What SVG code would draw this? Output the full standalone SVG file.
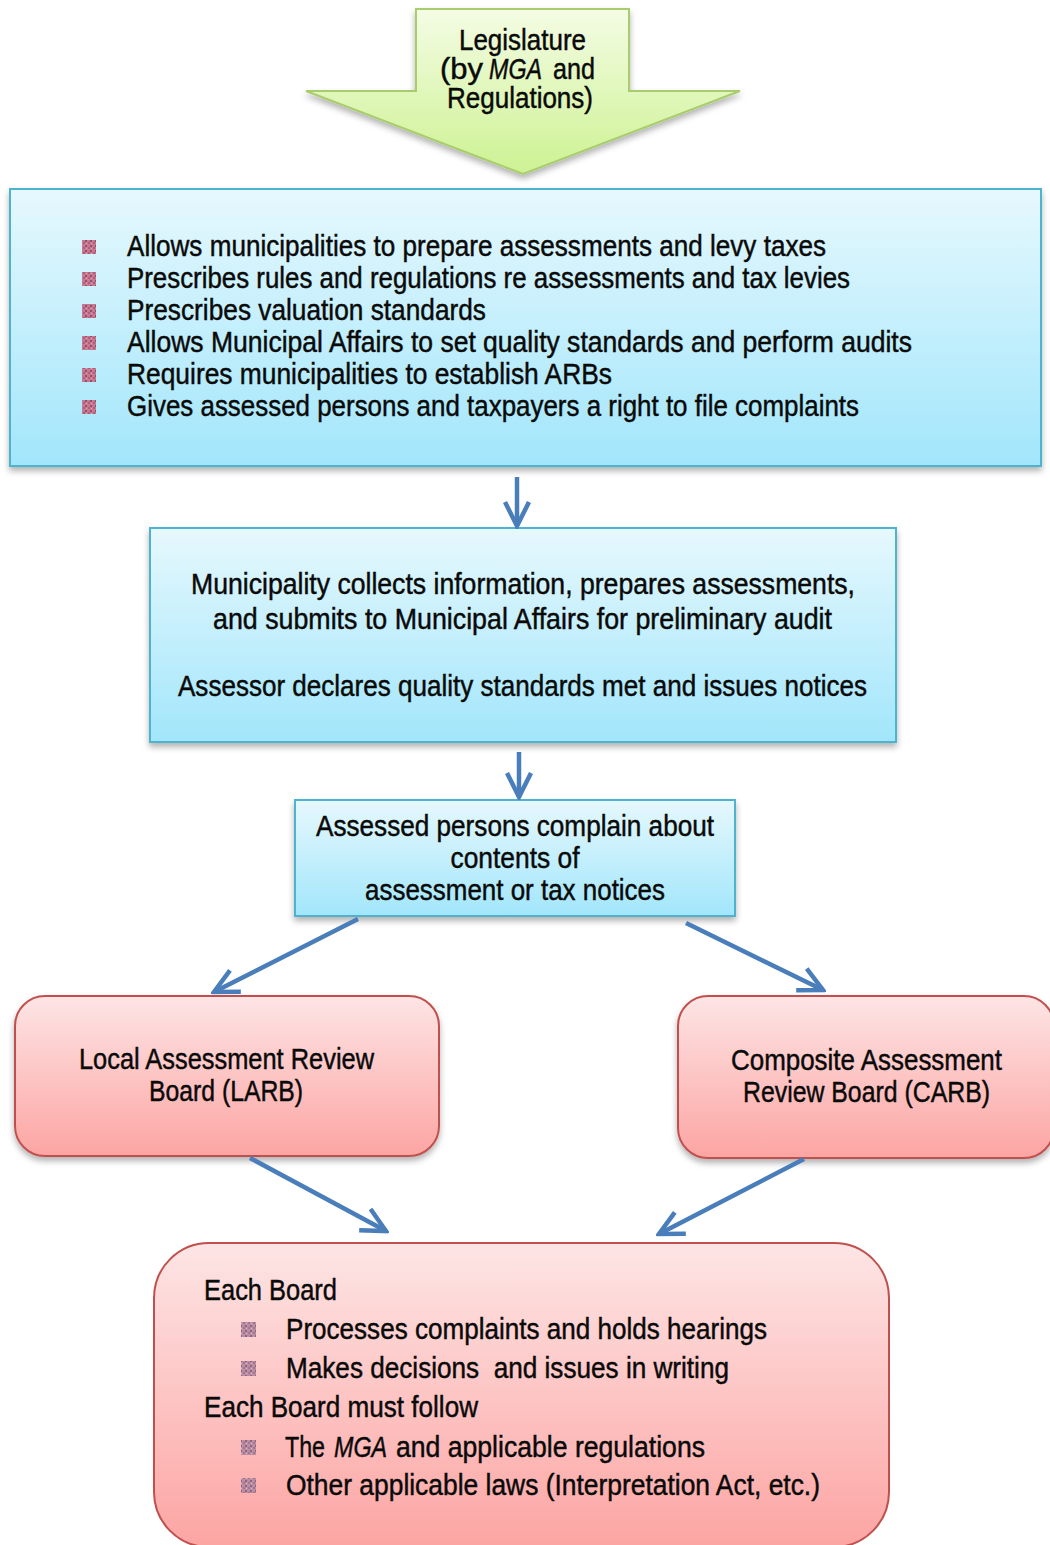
<svg xmlns="http://www.w3.org/2000/svg" width="1050" height="1545" viewBox="0 0 1050 1545">
<style>
  .t{font-family:"Liberation Sans Narrow","Liberation Sans",Arial,sans-serif;font-size:29px;fill:#0a0a0a;stroke:#0a0a0a;stroke-width:0.45px}
  .i{font-style:italic}
  .m{text-anchor:middle}
  .blue{fill:url(#gBlue);stroke:#4eb3cf;stroke-width:2}
  .pink{fill:url(#gPink);stroke:#c0504d;stroke-width:2}
  .bul{fill:url(#pBul)}
  .bul2{fill:url(#pBul2)}
  .conn{stroke:#4a7ebb;stroke-width:4.5;fill:none;marker-end:url(#arr)}
</style>
<defs>
  <linearGradient id="gBlue" x1="0" y1="0" x2="0" y2="1">
    <stop offset="0" stop-color="#e6f8fd"/>
    <stop offset="1" stop-color="#a2e6fb"/>
  </linearGradient>
  <linearGradient id="gPink" x1="0" y1="0" x2="0" y2="1">
    <stop offset="0" stop-color="#fde5e5"/>
    <stop offset="1" stop-color="#fca5a3"/>
  </linearGradient>
  <linearGradient id="gGreen" x1="0" y1="0" x2="0" y2="1">
    <stop offset="0" stop-color="#f4fce4"/>
    <stop offset="1" stop-color="#cdf293"/>
  </linearGradient>
  <pattern id="pBul" width="5" height="5" patternUnits="userSpaceOnUse">
    <rect width="5" height="5" fill="#c47a90"/>
    <rect x="0" y="0" width="2" height="2" fill="#9c4c68"/>
    <rect x="3" y="2" width="2" height="2" fill="#b15e7c"/>
    <rect x="1" y="3" width="1" height="1" fill="#d9a3b3"/>
  </pattern>
  <pattern id="pBul2" width="5" height="5" patternUnits="userSpaceOnUse">
    <rect width="5" height="5" fill="#bb8ea2"/>
    <rect x="0" y="0" width="2" height="2" fill="#8f6586"/>
    <rect x="3" y="2" width="2" height="2" fill="#a47690"/>
    <rect x="1" y="3" width="1" height="1" fill="#dbb6c4"/>
  </pattern>
  <filter id="sh" x="-10%" y="-10%" width="120%" height="130%">
    <feDropShadow dx="0" dy="4" stdDeviation="3" flood-color="#000" flood-opacity="0.3"/>
  </filter>
  <marker id="arr" markerUnits="userSpaceOnUse" viewBox="0 0 28 28" markerWidth="28" markerHeight="28" refX="25" refY="14" orient="auto">
    <path d="M1,2 L25,14 L1,26" fill="none" stroke="#4a7ebb" stroke-width="4.5"/>
  </marker>
</defs>

<g id="legislature">
  <polygon points="416,9 629,9 629,91 740,91 523,174 306,91 416,91" fill="url(#gGreen)" stroke="#a9cc6c" stroke-width="2" filter="url(#sh)"/>
  <text class="t" x="459" y="50" textLength="127" lengthAdjust="spacingAndGlyphs">Legislature</text>
  <text class="t" x="440" y="79" textLength="43" lengthAdjust="spacingAndGlyphs">(by</text>
  <text class="t i" x="489" y="79" textLength="53" lengthAdjust="spacingAndGlyphs">MGA</text>
  <text class="t" x="553" y="79" textLength="42" lengthAdjust="spacingAndGlyphs">and</text>
  <text class="t" x="447" y="108" textLength="146" lengthAdjust="spacingAndGlyphs">Regulations)</text>
</g>

<g id="legislation-box">
  <rect class="blue" x="10" y="189" width="1031" height="277" filter="url(#sh)"/>
  <rect class="bul" x="82" y="240" width="14" height="14"/>
  <rect class="bul" x="82" y="272" width="14" height="14"/>
  <rect class="bul" x="82" y="304" width="14" height="14"/>
  <rect class="bul" x="82" y="336" width="14" height="14"/>
  <rect class="bul" x="82" y="368" width="14" height="14"/>
  <rect class="bul" x="82" y="400" width="14" height="14"/>
  <text class="t" x="127" y="256" textLength="699" lengthAdjust="spacingAndGlyphs">Allows municipalities to prepare assessments and levy taxes</text>
  <text class="t" x="127" y="288" textLength="723" lengthAdjust="spacingAndGlyphs">Prescribes rules and regulations re assessments and tax levies</text>
  <text class="t" x="127" y="320" textLength="359" lengthAdjust="spacingAndGlyphs">Prescribes valuation standards</text>
  <text class="t" x="127" y="352" textLength="785" lengthAdjust="spacingAndGlyphs">Allows Municipal Affairs to set quality standards and perform audits</text>
  <text class="t" x="127" y="384" textLength="485" lengthAdjust="spacingAndGlyphs">Requires municipalities to establish ARBs</text>
  <text class="t" x="127" y="416" textLength="732" lengthAdjust="spacingAndGlyphs">Gives assessed persons and taxpayers a right to file complaints</text>
</g>

<g id="municipality">
  <rect class="blue" x="150" y="528" width="746" height="214" filter="url(#sh)"/>
  <text class="t m" x="523" y="594" textLength="664" lengthAdjust="spacingAndGlyphs">Municipality collects information, prepares assessments,</text>
  <text class="t m" x="522.5" y="629" textLength="619" lengthAdjust="spacingAndGlyphs">and submits to Municipal Affairs for preliminary audit</text>
  <text class="t m" x="522.5" y="696" textLength="689" lengthAdjust="spacingAndGlyphs">Assessor declares quality standards met and issues notices</text>
</g>

<g id="complaint">
  <rect class="blue" x="295" y="800" width="440" height="116" filter="url(#sh)"/>
  <text class="t m" x="515" y="836" textLength="398" lengthAdjust="spacingAndGlyphs">Assessed persons complain about</text>
  <text class="t m" x="515" y="868" textLength="129" lengthAdjust="spacingAndGlyphs">contents of</text>
  <text class="t m" x="515" y="900" textLength="300" lengthAdjust="spacingAndGlyphs">assessment or tax notices</text>
</g>

<g id="larb">
  <rect class="pink" x="15" y="996" width="424" height="160" rx="30" ry="30" filter="url(#sh)"/>
  <text class="t m" x="226.5" y="1069" textLength="295" lengthAdjust="spacingAndGlyphs">Local Assessment Review</text>
  <text class="t m" x="226" y="1101" textLength="154" lengthAdjust="spacingAndGlyphs">Board (LARB)</text>
</g>

<g id="carb">
  <rect class="pink" x="678" y="996" width="376" height="162" rx="30" ry="30" filter="url(#sh)"/>
  <text class="t m" x="866.5" y="1070" textLength="271" lengthAdjust="spacingAndGlyphs">Composite Assessment</text>
  <text class="t m" x="866.5" y="1102" textLength="247" lengthAdjust="spacingAndGlyphs">Review Board (CARB)</text>
</g>

<g id="each-board">
  <rect class="pink" x="154" y="1243" width="735" height="304" rx="55" ry="55"/>
  <text class="t" x="204" y="1300" textLength="133" lengthAdjust="spacingAndGlyphs">Each Board</text>
  <rect class="bul2" x="241" y="1322" width="15" height="15"/>
  <text class="t" x="286" y="1339" textLength="481" lengthAdjust="spacingAndGlyphs">Processes complaints and holds hearings</text>
  <rect class="bul2" x="241" y="1361" width="15" height="15"/>
  <text class="t" x="286" y="1378" textLength="443" lengthAdjust="spacingAndGlyphs" xml:space="preserve" style="white-space:pre">Makes decisions  and issues in writing</text>
  <text class="t" x="204" y="1417" textLength="274" lengthAdjust="spacingAndGlyphs">Each Board must follow</text>
  <rect class="bul2" x="241" y="1440" width="15" height="15"/>
  <text class="t" x="285" y="1457" textLength="40" lengthAdjust="spacingAndGlyphs">The</text>
  <text class="t i" x="334" y="1457" textLength="53" lengthAdjust="spacingAndGlyphs">MGA</text>
  <text class="t" x="396" y="1457" textLength="309" lengthAdjust="spacingAndGlyphs">and applicable regulations</text>
  <rect class="bul2" x="241" y="1478" width="15" height="15"/>
  <text class="t" x="286" y="1495" textLength="534" lengthAdjust="spacingAndGlyphs">Other applicable laws (Interpretation Act, etc.)</text>
</g>

<g id="connectors">
  <line class="conn" x1="517" y1="477" x2="517" y2="526"/>
  <line class="conn" x1="519" y1="752" x2="519" y2="797"/>
  <line class="conn" x1="358" y1="919" x2="214" y2="992"/>
  <line class="conn" x1="686" y1="923" x2="823" y2="990"/>
  <line class="conn" x1="250" y1="1158" x2="386" y2="1231"/>
  <line class="conn" x1="804" y1="1159" x2="659" y2="1234"/>
</g>
</svg>
